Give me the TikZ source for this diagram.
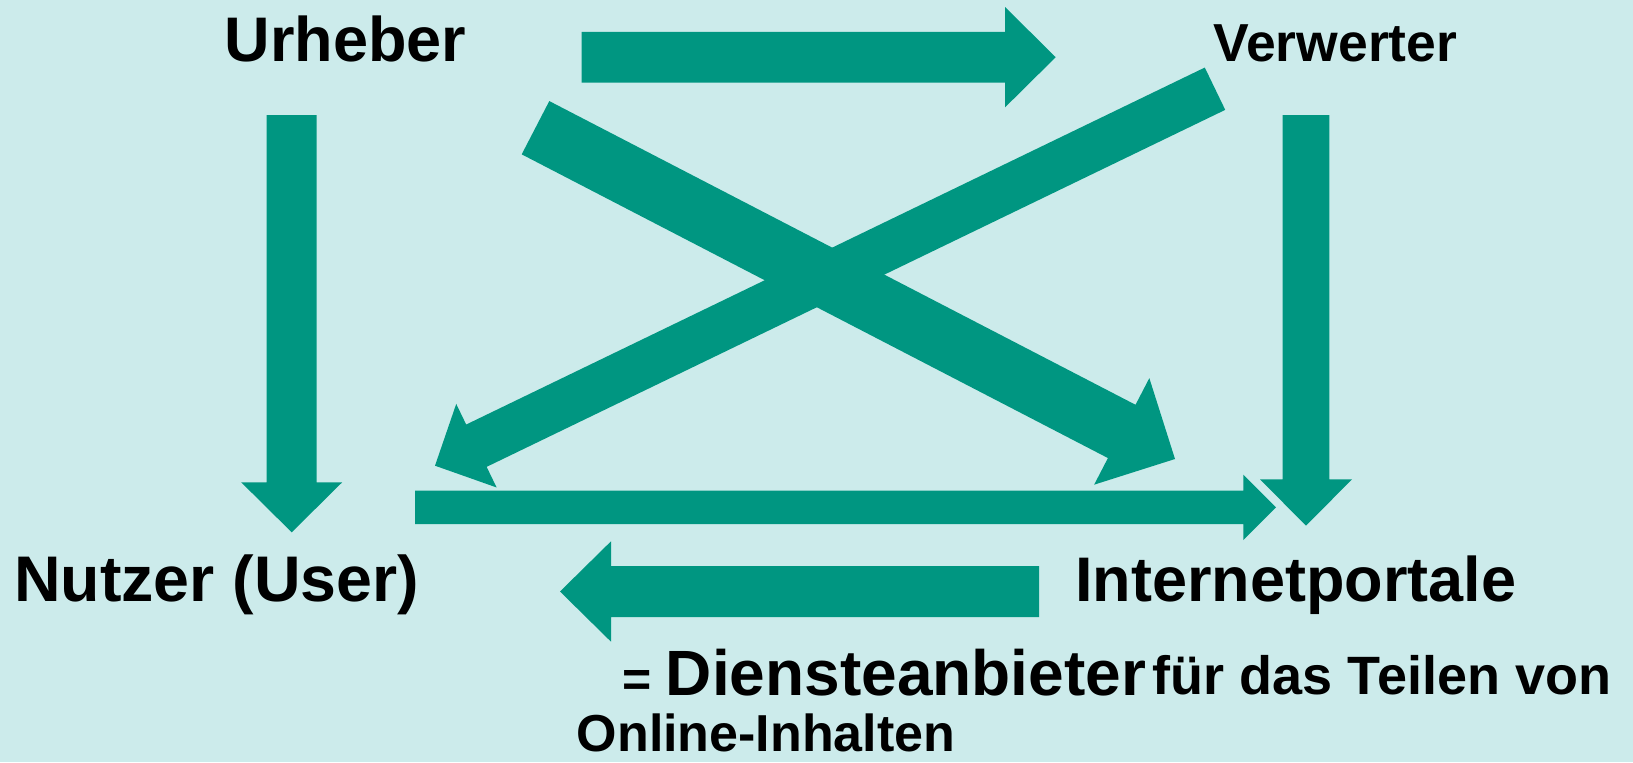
\documentclass[tikz,border=0pt]{standalone}
\usepackage{fontspec}
\setmainfont{Liberation Sans}
\usepackage{tikz}
\usetikzlibrary{calc}
\definecolor{bgcyan}{RGB}{204,235,235}
\definecolor{pfeilgruen}{RGB}{0,150,129}
\newcommand{\fsz}[1]{\fontsize{#1}{#1}\selectfont}
\newcommand{\blockpfeil}[5]{%
\coordinate (hb) at ($(#2)!#5!(#1)$);
\fill [pfeil] ($(#1)!#3!90:(#2)$) -- ($(hb)!#3!-90:(#1)$) -- ($(hb)!#4!-90:(#1)$) -- (#2) -- ($(hb)!#4!90:(#1)$) -- ($(hb)!#3!90:(#1)$) -- ($(#1)!#3!-90:(#2)$) -- cycle;}

\begin{document}
\begin{tikzpicture}[line cap=round,line join=round,x=0.5pt,y=-0.5pt,
  pfeil/.style={fill=pfeilgruen},
  lbl/.style={anchor=base,inner sep=0pt,text=black,font=\bfseries}]
\fill [bgcyan] (0,0) rectangle (1633,762);
\useasboundingbox (0,0) rectangle (1633,762);
\node [lbl,font=\bfseries\fsz{31.5}] (urheber) at (345.4,61.7) {Urheber};
\node [lbl,font=\bfseries\fsz{26.75}] (verwerter) at (1335.3,61.7) {Verwerter};
\node [lbl,font=\bfseries\fsz{32.25}] (nutzer) at (216.7,601.7) {Nutzer (User)};
\node [lbl,font=\bfseries\fsz{31.5}] (portale) at (1295.8,601) {Internetportale};
\node [lbl,font=\bfseries\fsz{25}] (gleich) at (636.8,696) {=};
\node [lbl,font=\bfseries\fsz{32}] (dienst) at (906,695) {Diensteanbieter};
\node [lbl,font=\bfseries\fsz{27}] (teilen) at (1382,694) {f\"ur das Teilen von};
\node [lbl,font=\bfseries\fsz{26}] (online) at (766,751) {Online-Inhalten};
\coordinate (a1s) at (581.7,57.2);
\coordinate (a1t) at (1055.7,57.2);
\coordinate (a2s) at (291.7,115);
\coordinate (a2t) at (291.7,532.3);
\coordinate (a3s) at (1306,115);
\coordinate (a3t) at (1306,525.7);
\coordinate (a4s) at (415,507.3);
\coordinate (a4t) at (1276,507.3);
\coordinate (a5s) at (1039,591.5);
\coordinate (a5t) at (560,591.5);
\coordinate (a6s) at (535.5,127.7);
\coordinate (a6t) at (1175,459);
\coordinate (a7s) at (1215,88.7);
\coordinate (a7t) at (435,465.7);
\blockpfeil{a1s}{a1t}{12.65pt}{25.1pt}{25.35pt}
\blockpfeil{a2s}{a2t}{12.5pt}{25.25pt}{25pt}
\blockpfeil{a3s}{a3t}{11.65pt}{23pt}{23.2pt}
\blockpfeil{a4s}{a4t}{8.35pt}{16.35pt}{16.35pt}
\blockpfeil{a5s}{a5t}{12.75pt}{25.1pt}{25.5pt}
\blockpfeil{a6s}{a6t}{15pt}{30pt}{30pt}
\blockpfeil{a7s}{a7t}{11.75pt}{23.2pt}{23pt}
\end{tikzpicture}
\end{document}
